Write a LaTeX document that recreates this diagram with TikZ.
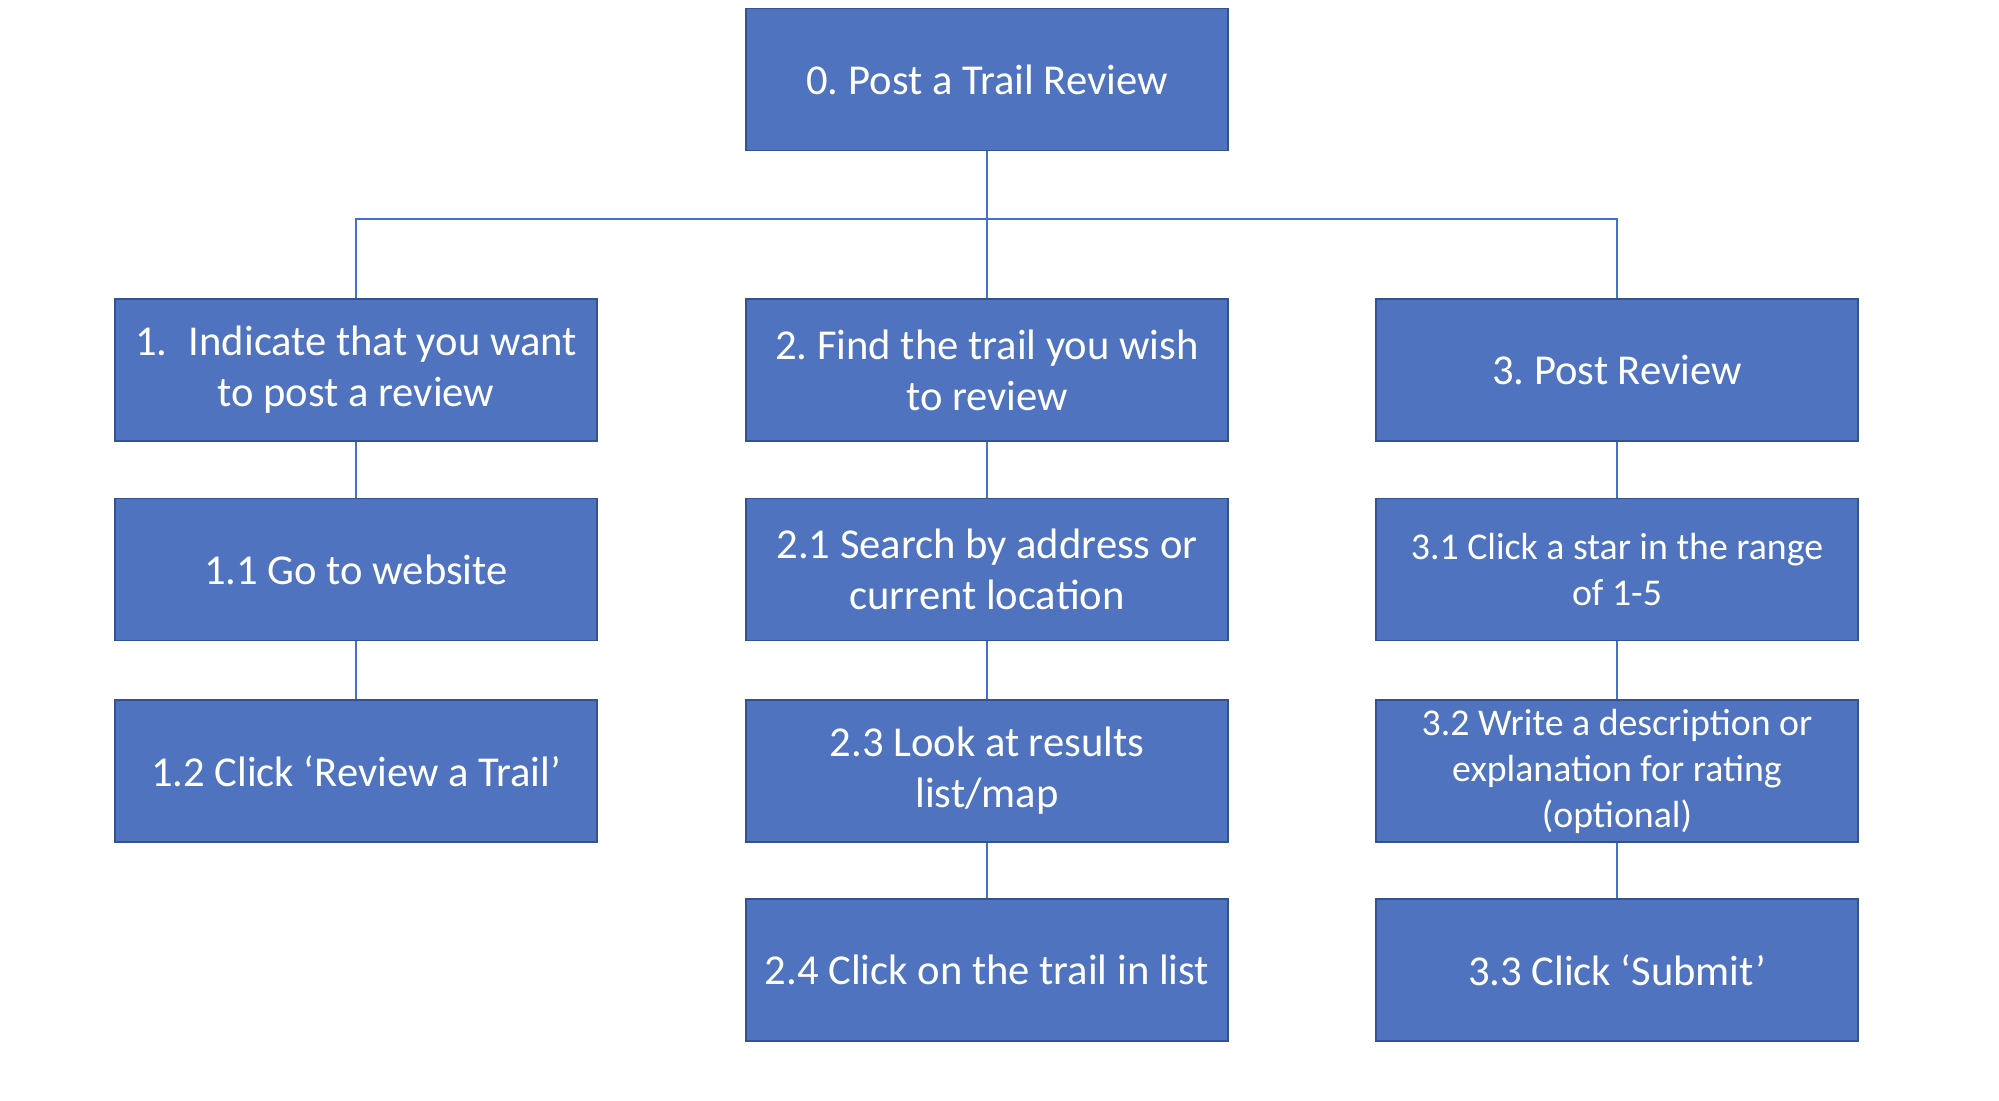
\documentclass[tikz,border=0pt]{standalone}
\usepackage{fontspec}
\setmainfont{Carlito}
\usepackage{tikz}

\definecolor{boxfill}{RGB}{79,115,190}
\definecolor{boxedge}{RGB}{52,82,145}
\definecolor{linkcol}{RGB}{68,114,196}

\begin{document}
\frenchspacing
\begin{tikzpicture}[x=0.5pt,y=0.5pt,yscale=-1,xscale=1,
  task/.style={draw=boxedge, line width=0.8pt, fill=boxfill, text=white,
    minimum width=241pt, minimum height=71pt, inner sep=0pt, align=center,
    font=\fontsize{21.3}{25.5}\selectfont},
  small/.style={font=\fontsize{18.9}{23}\selectfont},
  link/.style={draw=linkcol, line width=0.8pt}]
%set diagram size to the reference: 1999 x 1101
\useasboundingbox (0,0) rectangle (1999,1101);

% Top Node
\node[task] (top) at (987,79.5) {0. Post a Trail Review};

% Level 1 Nodes
\node[task] (t1) at (356,370) {1.\hspace{0.5em}Indicate that you want\\to post a review};
\node[task] (t2) at (987,370) {2. Find the trail you wish\\to review};
\node[task] (t3) at (1617,370) {3. Post Review};

% Level 2 Nodes
\node[task] (t11) at (356,569.5) {1.1 Go to website};
\node[task] (t21) at (987,569.5) {2.1 Search by address or\\current location};
\node[task,small] (t31) at (1617,569.5) {3.1 Click a star in the range\\of 1-5};

% Level 3 Nodes
\node[task] (t12) at (356,771) {1.2 Click ‘Review a Trail’};
\node[task] (t23) at (987,771) {2.3 Look at results\\list/map};
\node[task,small] (t32) at (1617,771) {3.2 Write a description or\\explanation for rating\\(optional)};

% Level 4 Nodes
\node[task] (t24) at (987,970) {2.4 Click on the trail in list};
\node[task] (t33) at (1617,970) {3.3 Click ‘Submit’};

%Straight Lines: top to level 1
\coordinate (bus) at (987,219);
\draw[link] (top.south) -- (bus);
\draw[link] (t1.north) |- (bus) -| (t3.north);
\draw[link] (bus) -- (t2.north);

%Straight Lines: down each column
\draw[link] (t1) -- (t11);
\draw[link] (t11) -- (t12);
\draw[link] (t2) -- (t21);
\draw[link] (t21) -- (t23);
\draw[link] (t23) -- (t24);
\draw[link] (t3) -- (t31);
\draw[link] (t31) -- (t32);
\draw[link] (t32) -- (t33);

\end{tikzpicture}
\end{document}
